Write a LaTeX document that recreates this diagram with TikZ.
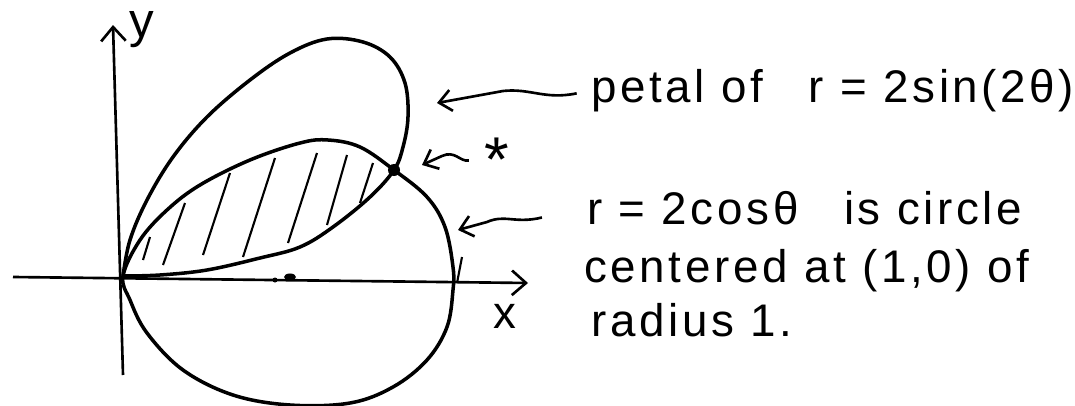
\documentclass[tikz,border=0pt]{standalone}
\usepackage{fontspec}
\setmainfont{Liberation Sans}
\newfontfamily\handfont[LetterSpace=8]{Liberation Sans}
\usetikzlibrary{arrows.meta, positioning}

\begin{document}
\begin{tikzpicture}[
    x=0.01cm, y=-0.01cm,
    curve/.style={line width=1pt, line join=round},
    axis/.style={line width=0.75pt, -{Straight Barb[length=4pt, width=7pt]}},
    hand/.style={line width=0.75pt, -{Straight Barb[length=3.5pt, width=6pt]}},
    hatch/.style={line width=0.6pt},
    lbl/.style={anchor=base west, inner sep=1pt, font=\handfont\fontsize{13}{15}\selectfont},
    dot/.style={circle, fill, inner sep=0pt, minimum size=0.12cm}
]
\useasboundingbox (0,0) rectangle (1075,406);

\draw[axis] (13,277) -- (528,283);
\draw[axis] (123,375) -- (113,25);
\node[font=\fontsize{14}{16}\selectfont] (ylbl) at (142,30) {y};
\node[font=\fontsize{13}{15}\selectfont] (xlbl) at (505,316) {x};

\draw[curve] plot[smooth cycle, tension=0.6] coordinates {(123,276) (140,240) (167,210) (200,185) (250,160) (300,143) (328,140) (360,147) (394,170) (427,197) (445,227) (453,267) (453,290) (447,327) (427,360) (393,387) (350,403) (290,405) (233,395) (183,370) (147,333) (130,300)};
\draw[curve] plot[smooth, tension=0.6] coordinates {(123,276) (130,240) (147,200) (173,157) (207,117) (250,80) (290,53) (327,39) (363,42) (390,57) (405,83) (408,117) (403,147) (394,170) (370,197) (333,227) (300,247) (260,258) (207,270) (160,275) (123,276)};

\foreach \a/\b/\c/\d in {143/260/150/237, 163/265/185/203, 203/255/230/173, 243/257/275/158, 288/243/317/153, 327/225/347/155, 360/203/373/163}
  \draw[hatch] (\a,\b) -- (\c,\d);

\fill (275,280) circle (0.025cm);
\fill (290,277) ellipse (0.06cm and 0.035cm);
\draw[hatch] (462,257) -- (457,283);

\node[dot] (isect) at (394,170) {};

\node[lbl] (petallbl) at (587,103) {petal of\quad r = 2sin(2θ)};
\node[font=\fontsize{18}{20}\selectfont] (star) at (497,160) {*};
\node[lbl] (circlbl) at (583,224) {r = 2cosθ\quad is circle};
\node[lbl] (ctrlbl) at (580,282) {centered at (1,0) of};
\node[lbl] (radlbl) at (587,336) {radius 1.};

\coordinate (petaltip) at (437,103);
\coordinate (isecttip) at (422,165);
\coordinate (circtip) at (458,230);

\draw[hand, shorten <=3pt] (petallbl.west) .. controls (545,100) and (530,88) .. (503,91) -- (petaltip);
\draw[hand, shorten <=1pt] (star.west) .. controls (460,162) and (455,150) .. (442,156) -- (isecttip);
\draw[hand, shorten <=12pt] (circlbl.west) .. controls (515,224) and (505,214) .. (487,222) -- (circtip);

\end{tikzpicture}
\end{document}
